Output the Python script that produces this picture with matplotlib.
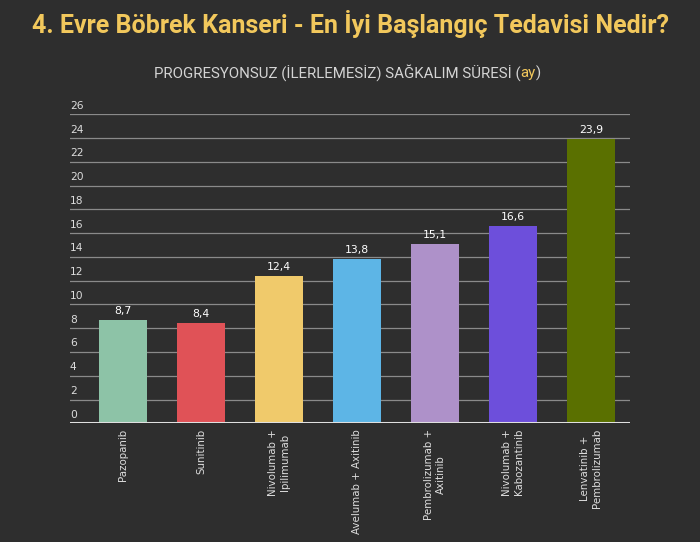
import numpy as np
import matplotlib.pyplot as plt
from matplotlib.transforms import blended_transform_factory, offset_copy

# data
treatments = ["Pazopanib", "Sunitinib", "Nivolumab +\nIpilimumab", "Avelumab + Axitinib",
              "Pembrolizumab +\nAxitinib", "Nivolumab +\nKabozantinib", "Lenvatinib +\nPembrolizumab"]
pfs_months = [8.7, 8.4, 12.4, 13.8, 15.1, 16.6, 23.9]
bar_colors = ["#8dc3a7", "#e05257", "#f0ca6b", "#5db5e6", "#ae91c9", "#6d4fdb", "#5a7000"]
y_ticks = list(range(0, 27, 2))

bg = "#2e2e2e"
txt = "#dddddd"
gold = "#f2c85c"

fig = plt.figure(figsize=(7, 5.42), dpi=100, facecolor=bg)
ax = fig.add_axes([0.1, 1 - 423.3/542, 0.8, (423.3 - 114.3)/542])
ax.set_facecolor(bg)

x = np.arange(len(treatments))
ax.bar(x, pfs_months, width=0.615, color=bar_colors, zorder=3)
ax.set_xlim(-0.679, 6.5)
ax.set_ylim(0, 26)

# gridlines + labels sitting above each line
for t in y_ticks[1:]:
    ax.axhline(t, color="#8a8a8a", lw=0.9, zorder=1)
ax.axhline(0, color="#e0e0e0", lw=2.2, zorder=4)
tr = offset_copy(blended_transform_factory(ax.transAxes, ax.transData), fig=fig, y=8.5, units="dots")
for t in y_ticks:
    ax.text(0.0, t, str(t), transform=tr, ha="left", va="center", color=txt, fontsize=7.7)

for xi, v in zip(x, pfs_months):
    ax.text(xi, v + 0.35, f"{v:.1f}".replace(".", ","), ha="center", va="bottom",
            color="white", fontsize=7.8, zorder=5)

ax.set_xticks(x)
ax.set_xticklabels(treatments, rotation=90, color=txt, fontsize=7.4, ha="center", va="top",
                   multialignment="center")
ax.tick_params(axis="x", length=0, pad=4)
ax.set_yticks([])
for s in ax.spines.values():
    s.set_visible(False)

title_fam = ["Roboto", "DejaVu Sans"]
title = fig.text(0.5, 1 - 24/542, "4. Evre Böbrek Kanseri - En İyi Başlangıç Tedavisi Nedir?",
                 ha="center", va="center", color=gold, fontsize=22, fontweight="bold",
                 family=title_fam)
fig.canvas.draw()
tw = title.get_window_extent().width
title.set_fontsize(22 * 635 / tw)

sub_fam = ["Roboto", "DejaVu Sans"]
sub_fs = 10.8
ys = 1 - 73/542
t1 = fig.text(0, ys, "PROGRESYONSUZ (İLERLEMESİZ) SAĞKALIM SÜRESİ (", va="center",
              color="#d4d4d4", fontsize=sub_fs, family=sub_fam)
t2 = fig.text(0, ys, "ay", va="center", color=gold, fontsize=sub_fs, family=sub_fam)
t3 = fig.text(0, ys, ")", va="center", color="#d4d4d4", fontsize=sub_fs, family=sub_fam)
fig.canvas.draw()
w1 = t1.get_window_extent().width
w2 = t2.get_window_extent().width
w3 = t3.get_window_extent().width
x0 = 347 - (w1 + w2 + w3) / 2
t1.set_x(x0 / 700)
t2.set_x((x0 + w1) / 700)
t3.set_x((x0 + w1 + w2) / 700)

fig.savefig("out.png", dpi=100, facecolor=bg)
